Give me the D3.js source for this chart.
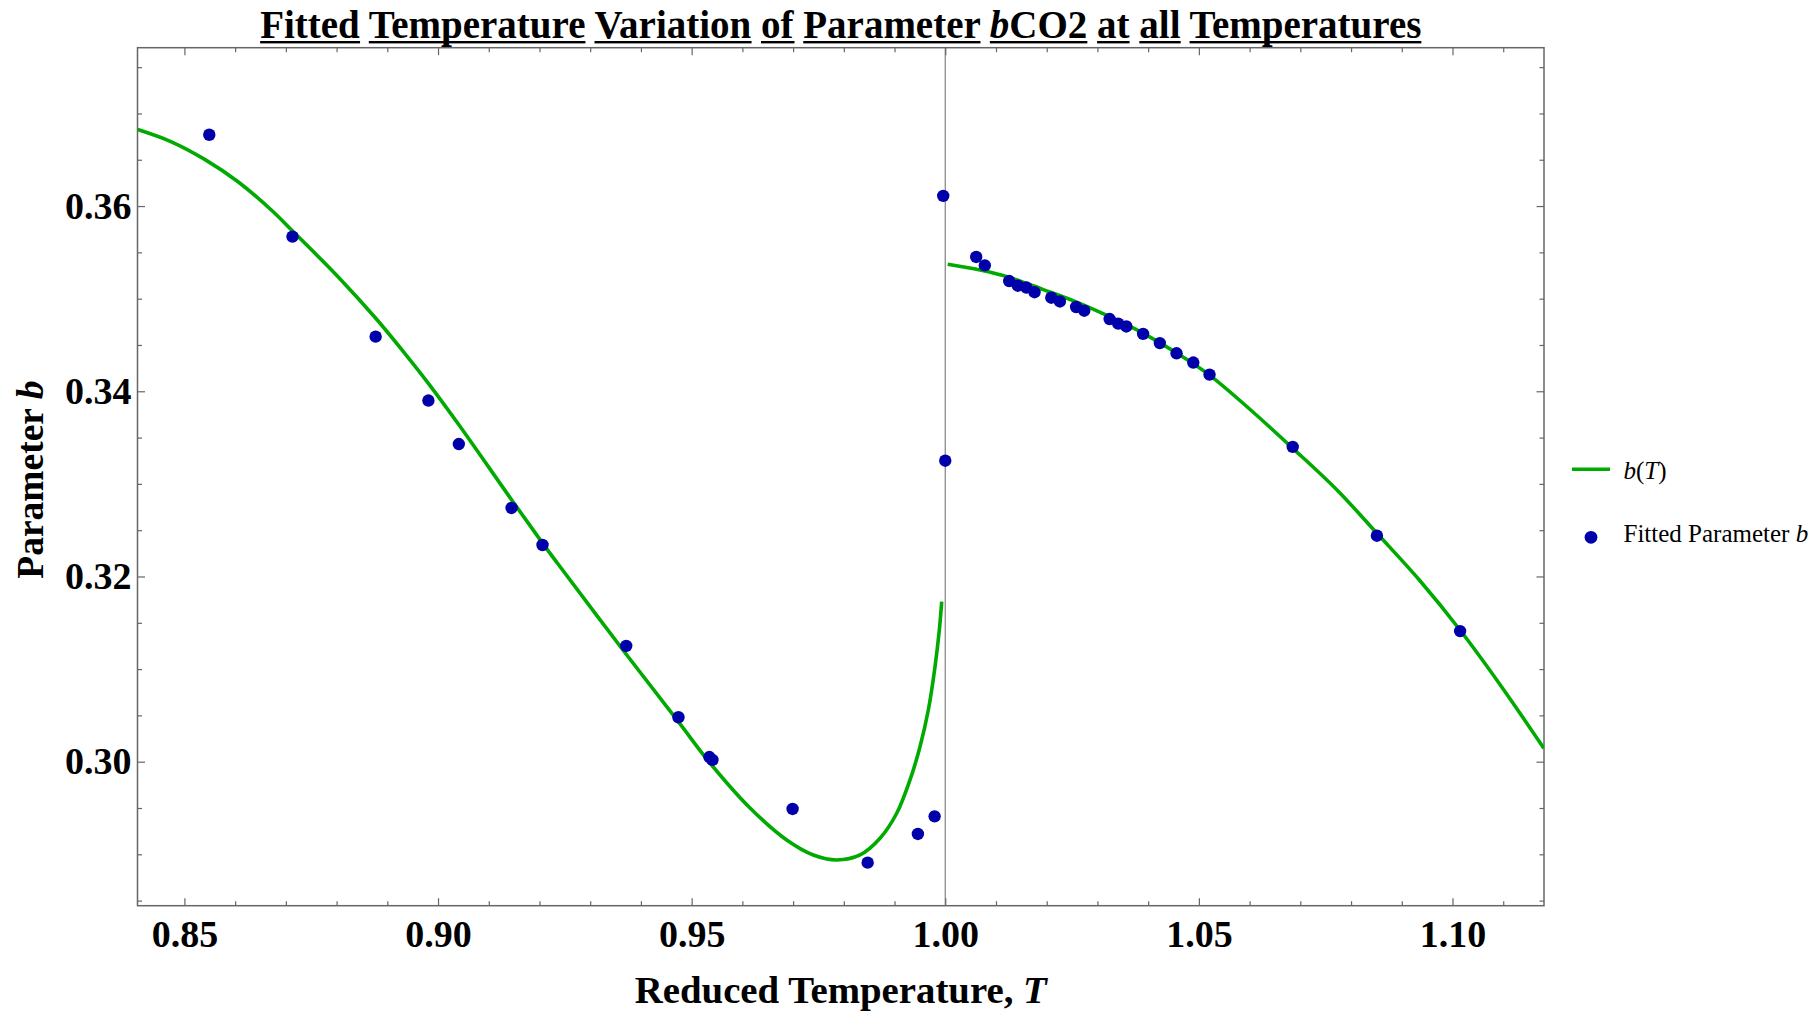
<!DOCTYPE html>
<html>
<head>
<meta charset="utf-8">
<script src="https://cdn.jsdelivr.net/npm/d3@7"></script>
<style>
  html, body { margin: 0; padding: 0; background: #ffffff; }
  svg { display: block; }
  text { font-family: "Liberation Serif", "Times New Roman", serif; }
</style>
</head>
<body>
<script>
// Reduced temperatures of the fitted points and the fitted b parameter values
const pointT = [0.8549, 0.8713, 0.8877, 0.8981, 0.9041, 0.9145, 0.9206, 0.9371, 0.9474, 0.9535,
  0.9541, 0.9699, 0.9847, 0.9946, 0.9979, 0.9996, 1.0000, 1.0061, 1.0078, 1.0126,
  1.0143, 1.0160, 1.0176, 1.0209, 1.0226, 1.0258, 1.0274, 1.0324, 1.0341, 1.0357,
  1.0390, 1.0423, 1.0456, 1.0489, 1.0521, 1.0685, 1.0851, 1.1015];
const pointB = [0.3677, 0.3567, 0.3459, 0.3390, 0.3343, 0.3274, 0.3234, 0.3125, 0.3048, 0.3005,
  0.3002, 0.2949, 0.2891, 0.2922, 0.2941, 0.3611, 0.3325, 0.3545, 0.3536, 0.3519,
  0.3514, 0.3512, 0.3507, 0.3501, 0.3497, 0.3491, 0.3487, 0.3478, 0.3473, 0.3470,
  0.3462, 0.3452, 0.3441, 0.3431, 0.3418, 0.3340, 0.3244, 0.3141];

// Fitted b(T) curve, sub-critical branch (T < 1)
const fitLowT = [0.84079, 0.84742, 0.85400, 0.86057, 0.86713, 0.87127, 0.88028, 0.88772, 0.89343, 0.89809,
  0.90414, 0.91453, 0.92064, 0.92366, 0.93706, 0.94737, 0.95362, 0.96151, 0.96874, 0.97399,
  0.97860, 0.98320, 0.98714, 0.99043, 0.99305, 0.99502, 0.99666, 0.99798, 0.99883, 0.99930];
const fitLowB = [0.36826, 0.36694, 0.36504, 0.36262, 0.35957, 0.35733, 0.35237, 0.34788, 0.34410, 0.34086,
  0.33636, 0.32826, 0.32358, 0.32135, 0.31163, 0.30432, 0.29986, 0.29500, 0.29155, 0.28993,
  0.28939, 0.28993, 0.29173, 0.29443, 0.29803, 0.30162, 0.30558, 0.31026, 0.31422, 0.31728];

// Fitted b(T) curve, super-critical branch (T > 1)
const fitHighT = [1.00048, 1.00685, 1.01263, 1.01933, 1.02591, 1.03242, 1.03904, 1.04563, 1.05209, 1.05949,
  1.06852, 1.07723, 1.08511, 1.09346, 1.10148, 1.10967, 1.11800];
const fitHighB = [0.35371, 0.35309, 0.35230, 0.35098, 0.34963, 0.34805, 0.34626, 0.34413, 0.34175, 0.33833,
  0.33384, 0.32934, 0.32466, 0.31962, 0.31422, 0.30810, 0.30145];

// Axis ticks
const xMajorTicks = [0.85, 0.90, 0.95, 1.00, 1.05, 1.10];
const xTickLabels = ["0.85", "0.90", "0.95", "1.00", "1.05", "1.10"];
const xMinorTicks = [0.85, 0.86, 0.87, 0.88, 0.89, 0.90, 0.91, 0.92, 0.93, 0.94, 0.95, 0.96, 0.97, 0.98, 0.99,
  1.00, 1.01, 1.02, 1.03, 1.04, 1.05, 1.06, 1.07, 1.08, 1.09, 1.10, 1.11];
const yMajorTicks = [0.30, 0.32, 0.34, 0.36];
const yTickLabels = ["0.30", "0.32", "0.34", "0.36"];
const yMinorTicks = [0.285, 0.29, 0.295, 0.30, 0.305, 0.31, 0.315, 0.32, 0.325, 0.33, 0.335, 0.34,
  0.345, 0.35, 0.355, 0.36, 0.365, 0.37, 0.375];

const W = 1814, H = 1012;
const plot = { left: 137.5, right: 1544, top: 47.7, bottom: 905.7 };
const green = "#00aa00", blue = "#0000aa", frameColor = "#666666";

const svg = d3.select("body").append("svg").attr("width", W).attr("height", H);
svg.append("rect").attr("width", W).attr("height", H).attr("fill", "#fff");

const x = d3.scaleLinear().domain([0.84075, 1.11804]).range([plot.left, plot.right]);
const y = d3.scaleLinear().domain([0.28445, 0.37710]).range([plot.bottom, plot.top]);

svg.append("defs").append("clipPath").attr("id", "plotClip")
  .append("rect").attr("x", plot.left).attr("y", plot.top)
  .attr("width", plot.right - plot.left).attr("height", plot.bottom - plot.top);

// critical temperature marker
svg.append("line")
  .attr("x1", x(1)).attr("x2", x(1)).attr("y1", plot.top).attr("y2", plot.bottom)
  .attr("stroke", "#8c8c8c").attr("stroke-width", 1.3);

// axes with inward ticks on all four sides
function drawAxis(axisGen, transform, cls) {
  const g = svg.append("g").attr("class", cls).attr("transform", transform).call(axisGen);
  g.select(".domain").remove();
  g.selectAll(".tick line").attr("stroke", frameColor).attr("stroke-width", 1.2);
  return g;
}
const minorX = xMinorTicks.filter(v => !xMajorTicks.some(m => Math.abs(m - v) < 1e-9));
const minorY = yMinorTicks.filter(v => !yMajorTicks.some(m => Math.abs(m - v) < 1e-9));

drawAxis(d3.axisBottom(x).tickValues(minorX).tickSize(-4.5).tickFormat(""), `translate(0,${plot.bottom})`, "xminor");
drawAxis(d3.axisTop(x).tickValues(minorX).tickSize(-4.5).tickFormat(""), `translate(0,${plot.top})`, "xminor-top");
drawAxis(d3.axisTop(x).tickValues(xMajorTicks).tickSize(-7.5).tickFormat(""), `translate(0,${plot.top})`, "xmajor-top");
drawAxis(d3.axisLeft(y).tickValues(minorY).tickSize(-4.5).tickFormat(""), `translate(${plot.left},0)`, "yminor");
drawAxis(d3.axisRight(y).tickValues(minorY).tickSize(-4.5).tickFormat(""), `translate(${plot.right},0)`, "yminor-right");
drawAxis(d3.axisRight(y).tickValues(yMajorTicks).tickSize(-7.5).tickFormat(""), `translate(${plot.right},0)`, "ymajor-right");

const xAxis = drawAxis(d3.axisBottom(x).tickValues(xMajorTicks).tickSize(-7.5).tickPadding(14)
  .tickFormat((d, i) => xTickLabels[i]), `translate(0,${plot.bottom})`, "xmajor");
xAxis.selectAll("text").attr("font-family", "Liberation Serif").attr("font-weight", "bold")
  .attr("font-size", 38).attr("fill", "#000");

const yAxis = drawAxis(d3.axisLeft(y).tickValues(yMajorTicks).tickSize(-7.5).tickPadding(6)
  .tickFormat((d, i) => yTickLabels[i]), `translate(${plot.left},0)`, "ymajor");
yAxis.selectAll("text").attr("font-family", "Liberation Serif").attr("font-weight", "bold")
  .attr("font-size", 38).attr("fill", "#000");

// frame
svg.append("rect")
  .attr("x", plot.left).attr("y", plot.top)
  .attr("width", plot.right - plot.left).attr("height", plot.bottom - plot.top)
  .attr("fill", "none").attr("stroke", frameColor).attr("stroke-width", 1.5);

// fitted curves
const line = d3.line().x(d => x(d[0])).y(d => y(d[1])).curve(d3.curveCatmullRom.alpha(0.5));
const curves = svg.append("g").attr("clip-path", "url(#plotClip)");
curves.append("path").datum(d3.zip(fitLowT, fitLowB)).attr("d", line)
  .attr("fill", "none").attr("stroke", green).attr("stroke-width", 3.6).attr("stroke-linejoin", "round");
curves.append("path").datum(d3.zip(fitHighT, fitHighB)).attr("d", line)
  .attr("fill", "none").attr("stroke", green).attr("stroke-width", 3.6).attr("stroke-linejoin", "round");

// fitted parameter points
svg.append("g").selectAll("circle").data(d3.zip(pointT, pointB)).join("circle")
  .attr("cx", d => x(d[0])).attr("cy", d => y(d[1])).attr("r", 6.2).attr("fill", blue);

// title: each word underlined on its own
const titleWords = [
  [["Fitted", false]], [["Temperature", false]], [["Variation", false]], [["of", false]],
  [["Parameter", false]], [["b", true], ["CO2", false]], [["at", false]], [["all", false]],
  [["Temperatures", false]]
];
const title = svg.append("text").attr("x", (plot.left + plot.right) / 2).attr("y", 38)
  .attr("text-anchor", "middle").attr("font-size", 39).attr("font-weight", "bold").attr("fill", "#000");
const wordSpans = [];
titleWords.forEach((parts, wi) => {
  const spans = [];
  parts.forEach(([t, it]) => {
    const s = title.append("tspan").text(t);
    if (it) s.attr("font-style", "italic");
    spans.push(s.node());
  });
  wordSpans.push(spans);
  if (wi < titleWords.length - 1) title.append("tspan").text(" ");
});
wordSpans.forEach(spans => {
  const boxes = spans.map(n => n.getBBox());
  const x0 = d3.min(boxes, b => b.x), x1 = d3.max(boxes, b => b.x + b.width);
  svg.append("rect").attr("x", x0).attr("y", 41).attr("width", x1 - x0).attr("height", 2.4).attr("fill", "#000");
});

// axis titles
const xTitle = svg.append("text").attr("x", (plot.left + plot.right) / 2).attr("y", 1003)
  .attr("text-anchor", "middle").attr("font-size", 38.8).attr("font-weight", "bold").attr("fill", "#000");
xTitle.append("tspan").text("Reduced Temperature, ");
xTitle.append("tspan").attr("font-style", "italic").text("T");

const yTitle = svg.append("text")
  .attr("transform", `translate(42.5,${(plot.top + plot.bottom) / 2 + 3}) rotate(-90)`)
  .attr("text-anchor", "middle").attr("font-size", 37.5).attr("font-weight", "bold").attr("fill", "#000");
yTitle.append("tspan").text("Parameter ");
yTitle.append("tspan").attr("font-style", "italic").text("b");

// legend
const legend = svg.append("g");
legend.append("line").attr("x1", 1572).attr("x2", 1610).attr("y1", 469.3).attr("y2", 469.3)
  .attr("stroke", green).attr("stroke-width", 3.6);
legend.append("text").attr("x", 1623.5).attr("y", 478.5).attr("font-size", 25).attr("fill", "#000")
  .call(t => {
    t.append("tspan").attr("font-style", "italic").text("b");
    t.append("tspan").text("(");
    t.append("tspan").attr("font-style", "italic").text("T");
    t.append("tspan").text(")");
  });
legend.append("circle").attr("cx", 1591).attr("cy", 537.3).attr("r", 6.4).attr("fill", blue);
legend.append("text").attr("x", 1623.5).attr("y", 542.3).attr("font-size", 25).attr("fill", "#000")
  .call(t => {
    t.append("tspan").text("Fitted Parameter ");
    t.append("tspan").attr("font-style", "italic").text("b");
  });
</script>
</body>
</html>
